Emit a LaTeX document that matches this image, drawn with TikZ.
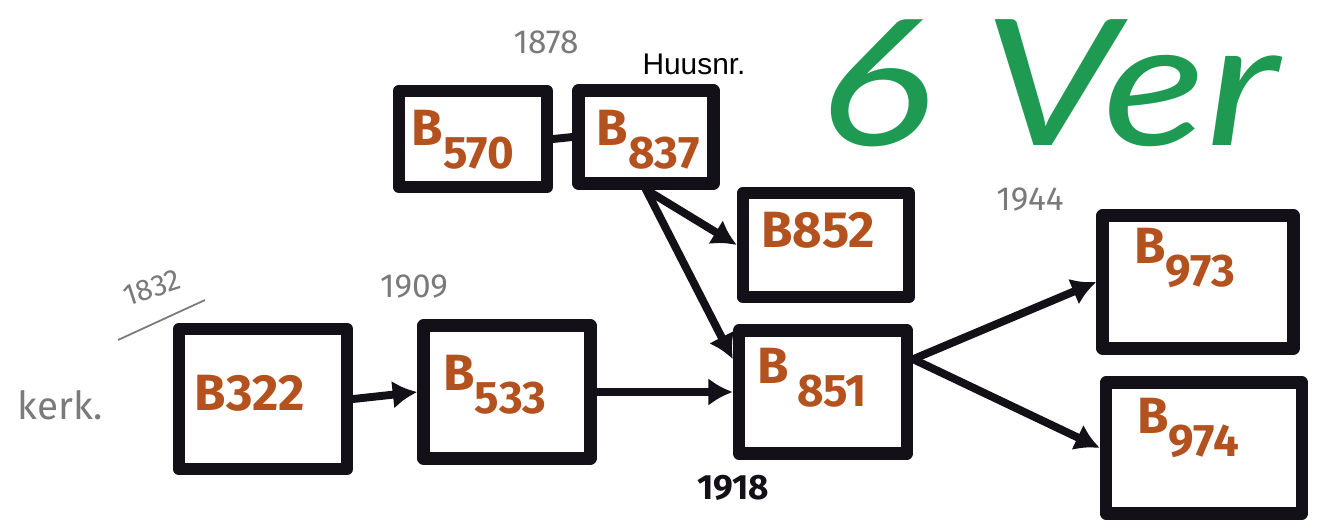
\documentclass[tikz,border=0pt]{standalone}
\usepackage{fontspec}
\setmainfont{Fira Sans}
\newfontfamily\boxfont{Fira Sans}
\newfontfamily\greenfont{Lato}
\newfontfamily\arialfont{Liberation Sans}
\usetikzlibrary{arrows.meta}
\definecolor{inkbrown}{HTML}{B4521F}
\definecolor{inkgreen}{HTML}{1F9A52}
\definecolor{pencil}{HTML}{7A7A7A}
\definecolor{inkblack}{HTML}{141018}
\tikzset{
  housebox/.style={draw=inkblack, line width=7pt, rectangle, inner sep=0pt, line join=round},
  lbl/.style={text=inkbrown, font=\boxfont\bfseries\fontsize{29}{29}\selectfont, inner sep=0pt},
  conn/.style={draw=inkblack, line width=4.5pt, line cap=round},
  arr/.style={conn, -{Latex[length=14pt,width=16pt]}},
  pencilnote/.style={text=pencil, font=\fontsize{19}{19}\selectfont, inner sep=0pt},
}
\newcommand{\sub}[1]{\raisebox{-0.45em}{\fontsize{26}{26}\selectfont #1}}
\begin{document}
\begin{tikzpicture}[x=0.02cm,y=-0.02cm]
\useasboundingbox[fill=white] (0,0) rectangle (1319,528);
% boxes
\node[housebox, minimum width=2.96cm, minimum height=1.92cm] (b570) at (473,139) {};
\node[housebox, minimum width=2.70cm, minimum height=1.86cm] (b837) at (646,137) {};
\node[housebox, minimum width=3.32cm, minimum height=2.08cm] (b852) at (826,245) {};
\node[housebox, minimum width=3.36cm, minimum height=2.46cm] (b851) at (823,392) {};
\node[housebox, minimum width=3.36cm, minimum height=2.80cm] (b322) at (263,399) {};
\node[housebox, minimum width=3.34cm, minimum height=2.66cm] (b533) at (507,392) {};
\node[housebox, minimum width=3.82cm, minimum height=2.66cm] (b973) at (1198,282) {};
\node[housebox, minimum width=3.92cm, minimum height=2.62cm] (b974) at (1204,448) {};
% labels
\node[lbl] (l570) at (463,140) {B\sub{570}};
\node[lbl] (l837) at (648,140) {B\sub{837}};
\node[lbl] (l852) at (818,230) {B852};
\node[lbl] (l851) at (812,378) {B\,\sub{851}};
\node[lbl] (l322) at (250,393) {B322};
\node[lbl] (l533) at (495,385) {B\sub{533}};
\node[lbl] (l973) at (1185,258) {B\sub{973}};
\node[lbl] (l974) at (1188,428) {B\sub{974}};
% connectors
\draw[conn] (b570.east) -- (b837.west);
\draw[arr] (b837.south) -- (b852.west);
\draw[arr] (b837.south) -- (b851.160);
\draw[arr] (b322.east) -- (b533.west);
\draw[arr] (b533.east) -- (b851.west);
\draw[arr] (b851.20) -- (b973.west);
\draw[arr] (b851.20) -- (b974.west);
% texts
\node[text=inkgreen, font=\greenfont\itshape\fontsize{100}{100}\selectfont, anchor=base west, inner sep=0pt, xscale=1.22] (title) at (818,145) {6 Ver};
\node[font=\arialfont\fontsize{17}{17}\selectfont, inner sep=0pt] (huus) at (694,64) {Huusnr.};
\node[pencilnote] (y1878) at (546,42) {1878};
\node[pencilnote, rotate=18, font=\fontsize{17}{17}\selectfont] (y1832) at (152,288) {1832};
\draw[pencil, line width=1pt] (118,340) -- (205,300);
\node[pencilnote, font=\fontsize{22}{22}\selectfont] (kerk) at (60,405) {kerk.};
\node[pencilnote] (y1909) at (414,287) {1909};
\node[pencilnote] (y1944) at (1030,200) {1944};
\node[font=\bfseries\fontsize{20}{20}\selectfont, text=inkblack, inner sep=0pt] (y1918) at (733,488) {1918};
\end{tikzpicture}
\end{document}
